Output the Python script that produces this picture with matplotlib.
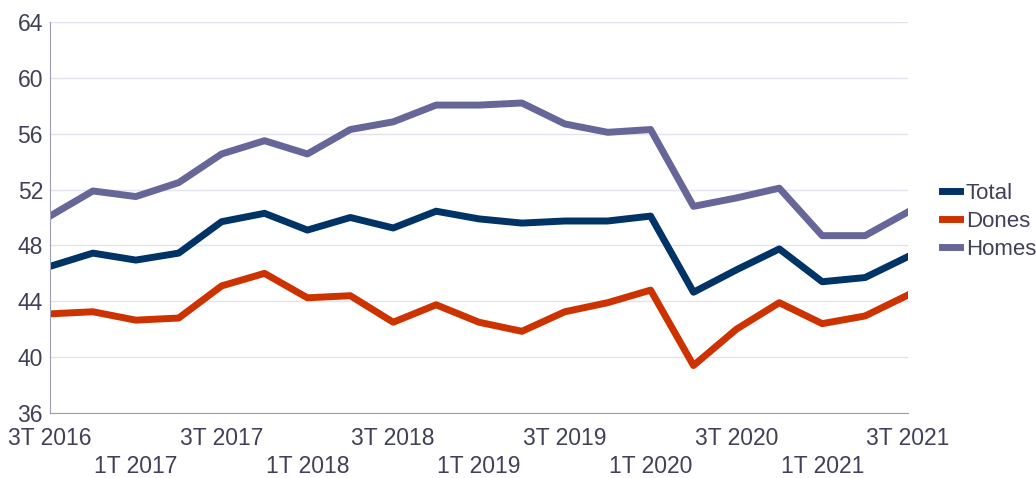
import matplotlib.pyplot as plt

quarters = ["3T 2016", "4T 2016", "1T 2017", "2T 2017", "3T 2017", "4T 2017",
            "1T 2018", "2T 2018", "3T 2018", "4T 2018", "1T 2019", "2T 2019",
            "3T 2019", "4T 2019", "1T 2020", "2T 2020", "3T 2020", "4T 2020",
            "1T 2021", "2T 2021", "3T 2021"]
total = [46.5, 47.45, 46.95, 47.45, 49.7, 50.3, 49.1, 50.0, 49.25, 50.45, 49.9,
         49.6, 49.75, 49.75, 50.1, 44.65, 46.25, 47.75, 45.4, 45.7, 47.2]
dones = [43.1, 43.25, 42.65, 42.8, 45.1, 46.0, 44.25, 44.4, 42.5, 43.75, 42.5,
         41.85, 43.25, 43.9, 44.8, 39.4, 42.0, 43.9, 42.4, 42.95, 44.45]
homes = [50.1, 51.9, 51.5, 52.5, 54.55, 55.5, 54.55, 56.3, 56.85, 58.05, 58.05,
         58.2, 56.7, 56.1, 56.3, 50.8, 51.4, 52.1, 48.7, 48.7, 50.4]

plt.rcParams['font.family'] = ['Liberation Sans', 'DejaVu Sans']
txt = '#404058'

fig = plt.figure(figsize=(10.36, 4.78), dpi=100)
ax = fig.add_axes([50 / 1036, 65 / 478, 858 / 1036, 391 / 478])

x = list(range(len(quarters)))
ax.plot(x, total, color='#003366', lw=5, label='Total')
ax.plot(x, dones, color='#cc3300', lw=5, label='Dones')
ax.plot(x, homes, color='#666699', lw=5, label='Homes')

ax.set_xlim(0, len(quarters) - 1)
ax.set_ylim(36, 64)
ax.set_yticks(range(36, 65, 4))
ax.grid(axis='y', color='#e3e3ee', lw=1)
ax.set_axisbelow(True)

ticks = x[::2]
labels = [q if i % 2 == 0 else "\n" + q for i, q in enumerate(quarters[::2])]
ax.set_xticks(ticks)
ax.set_xticklabels(labels, linespacing=1.3)

for s in ['top', 'right']:
    ax.spines[s].set_visible(False)
for s in ['left', 'bottom']:
    ax.spines[s].set_color('#9c9cbc')
ax.tick_params(length=0, labelsize=16.5, colors=txt)
ax.tick_params(axis='x', pad=10)
ax.tick_params(axis='y', pad=5)

leg = ax.legend(loc='center left', bbox_to_anchor=(1.04, 0.49), frameon=False,
                fontsize=16, handlelength=0.8, handletextpad=0.25,
                labelspacing=0.3, borderaxespad=0, borderpad=0)
for t in leg.get_texts():
    t.set_color(txt)

fig.savefig('out.png', dpi=100)
